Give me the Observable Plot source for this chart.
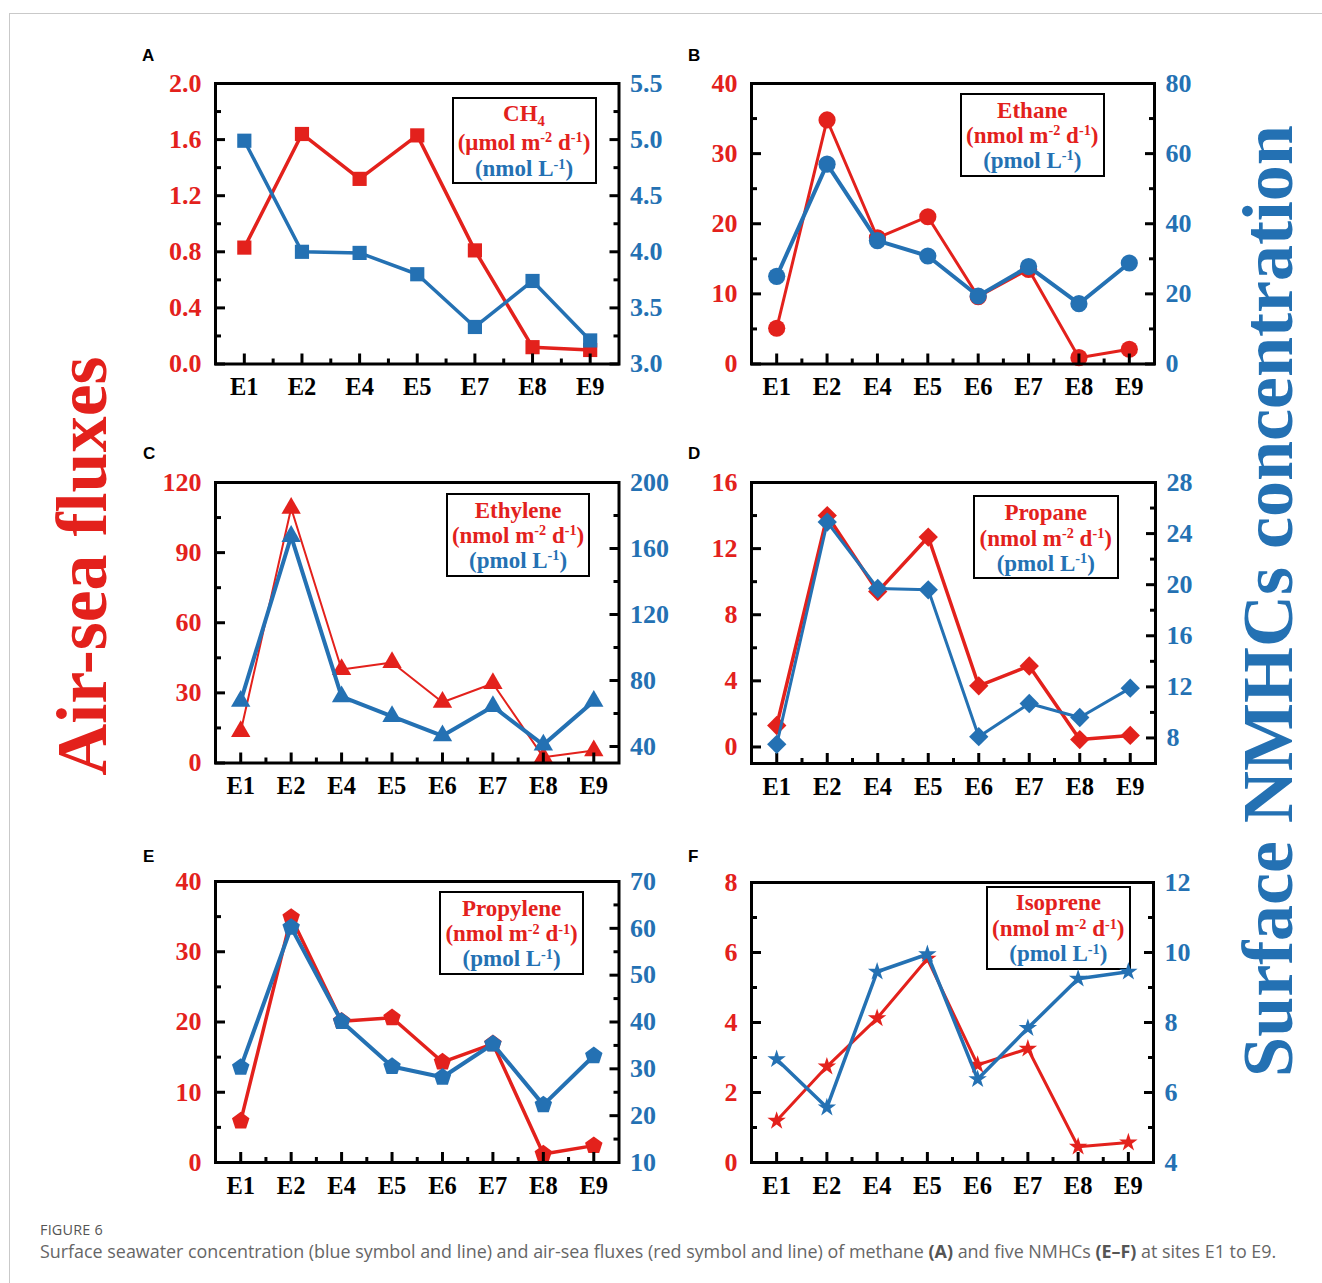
<!DOCTYPE html>
<html>
<head>
<meta charset="utf-8">
<script src="https://cdn.jsdelivr.net/npm/d3@7"></script>
<script src="https://cdn.jsdelivr.net/npm/@observablehq/plot@0.6"></script>
<style>
  body { margin: 0; background: #fff; }
  #page { position: relative; width: 1322px; height: 1283px; overflow: hidden; background: #fff; }
  #border { position: absolute; left: 9px; top: 13px; width: 1400px; height: 1400px;
            border-top: 1.5px solid #c9c9c9; border-left: 1.5px solid #c9c9c9; }
  .layer { position: absolute; }
  .box { position: absolute; border: 2px solid #000; background: #fff; box-sizing: border-box;
         font-family: "Liberation Serif", "Times New Roman", Times, serif; font-weight: bold; font-size: 23px; }
  .box .ln { position: absolute; left: -10px; right: -10px; text-align: center; line-height: 25px; white-space: nowrap; }
  .sup { font-size: 0.62em; position: relative; top: -0.55em; }
  .sub { font-size: 0.64em; position: relative; top: 0.32em; }
  .letter { position: absolute; font-family: "Liberation Sans", Arial, sans-serif; font-weight: bold; font-size: 17px; line-height: 1; }
  #figlabel { position: absolute; left: 40px; top: 1220px; font-family: "Open Sans", "Noto Sans", sans-serif;
              font-size: 14.4px; color: #555; letter-spacing: 0.2px; }
  #caption { position: absolute; left: 40px; top: 1239px; font-family: "Open Sans", "Noto Sans", sans-serif;
             font-size: 17.9px; color: #666; white-space: nowrap; }
  #caption b { color: #555; }
</style>
</head>
<body>
<div id="page">
  <div id="border"></div>
</div>
<script>
// Sampling sites
const sitesCH4 = ["E1", "E2", "E4", "E5", "E7", "E8", "E9"];
const sitesNMHC = ["E1", "E2", "E4", "E5", "E6", "E7", "E8", "E9"];

// Air-sea fluxes (red, left axis) and surface seawater concentrations (blue, right axis)
const ch4Flux = [0.83, 1.64, 1.32, 1.63, 0.81, 0.12, 0.10];       // µmol m-2 d-1
const ch4Conc = [4.99, 4.00, 3.99, 3.80, 3.33, 3.74, 3.21];       // nmol L-1
const ethaneFlux = [5.1, 34.8, 18.0, 21.0, 9.6, 13.5, 0.9, 2.1];  // nmol m-2 d-1
const ethaneConc = [25.0, 57.0, 35.2, 30.8, 19.4, 27.8, 17.2, 28.8]; // pmol L-1
const ethyleneFlux = [13.5, 109, 40, 43, 26, 34, 2.5, 5.3];
const ethyleneConc = [67.5, 167.4, 70.2, 58.2, 46.5, 64.3, 41, 67.5];
const propaneFlux = [1.3, 14.0, 9.4, 12.7, 3.7, 4.9, 0.45, 0.7];
const propaneConc = [7.5, 24.9, 19.7, 19.6, 8.1, 10.7, 9.6, 11.9];
const propyleneFlux = [5.9, 34.9, 20.1, 20.6, 14.3, 16.9, 1.2, 2.4];
const propyleneConc = [30.3, 60.2, 40.1, 30.5, 28.2, 35.3, 22.3, 32.8];
const isopreneFlux = [1.19, 2.74, 4.12, 5.82, 2.79, 3.25, 0.45, 0.57];
const isopreneConc = [6.95, 5.57, 9.45, 9.95, 6.38, 7.84, 9.25, 9.45];

// Axis tick labels (left = flux, right = concentration)
const ticksCH4Flux = [0, 0.4, 0.8, 1.2, 1.6, 2.0];
const ticksCH4Conc = [3.0, 3.5, 4.0, 4.5, 5.0, 5.5];
const ticksEthaneFlux = [0, 10, 20, 30, 40];
const ticksEthaneConc = [0, 20, 40, 60, 80];
const ticksEthyleneFlux = [0, 30, 60, 90, 120];
const ticksEthyleneConc = [40, 80, 120, 160, 200];
const ticksPropaneFlux = [0, 4, 8, 12, 16];
const ticksPropaneConc = [8, 12, 16, 20, 24, 28];
const ticksPropyleneFlux = [0, 10, 20, 30, 40];
const ticksPropyleneConc = [10, 20, 30, 40, 50, 60, 70];
const ticksIsopreneFlux = [0, 2, 4, 6, 8];
const ticksIsopreneConc = [4, 6, 8, 10, 12];

const RED = "#e3211c";
const BLUE = "#2471b3";
const SERIF = '"Liberation Serif", "Times New Roman", Times, serif';

// Filled pentagon, point up, centred on the data point
const pentagon = {
  draw(context, size) {
    const R = Math.sqrt(size / 2.3776);
    for (let k = 0; k < 5; ++k) {
      const a = -Math.PI / 2 + k * 2 * Math.PI / 5;
      const px = R * Math.cos(a), py = R * Math.sin(a);
      if (k) context.lineTo(px, py); else context.moveTo(px, py);
    }
    context.closePath();
  }
};

const f1 = d3.format(".1f");
const fi = d3.format("d");

const panels = [
  { letter: "A", sites: sitesCH4, flux: ch4Flux, conc: ch4Conc,
    leftDomain: [0, 2], rightDomain: [3, 5.5], leftTicks: ticksCH4Flux, rightTicks: ticksCH4Conc,
    leftFormat: f1, rightFormat: f1, symbol: "square", r: 8, redWidth: 3.5, blueWidth: 3.5,
    frame: [215, 82.5, 403.5, 280.5], letterPos: [142, 47],
    box: [451.5, 96.7, 145, 87.6], baselines: [25, 53.3, 80],
    lines: ['CH<span class="sub">4</span>', '(μmol m<span class="sup">-2</span> d<span class="sup">-1</span>)', '(nmol L<span class="sup">-1</span>)'] },
  { letter: "B", sites: sitesNMHC, flux: ethaneFlux, conc: ethaneConc,
    leftDomain: [0, 40], rightDomain: [0, 80], leftTicks: ticksEthaneFlux, rightTicks: ticksEthaneConc,
    leftFormat: fi, rightFormat: fi, symbol: "circle", r: 8.6, redWidth: 3, blueWidth: 4,
    frame: [751, 82.5, 403, 280.5], letterPos: [688, 47],
    box: [960, 93.3, 144.5, 84], baselines: [25, 50.2, 75.2],
    lines: ["Ethane"] },
  { letter: "C", sites: sitesNMHC, flux: ethyleneFlux, conc: ethyleneConc,
    leftDomain: [0, 120], rightDomain: [30, 200], leftTicks: ticksEthyleneFlux, rightTicks: ticksEthyleneConc,
    leftFormat: fi, rightFormat: fi, symbol: "triangle", r: 7.2, redWidth: 2, blueWidth: 4,
    frame: [215, 481.5, 403.5, 280.5], letterPos: [143, 445],
    box: [446, 492.7, 144.2, 84], baselines: [25.6, 50.6, 75.6],
    lines: ["Ethylene"] },
  { letter: "D", sites: sitesNMHC, flux: propaneFlux, conc: propaneConc,
    leftDomain: [-1, 16], rightDomain: [6, 28], leftTicks: ticksPropaneFlux, rightTicks: ticksPropaneConc,
    leftFormat: fi, rightFormat: fi, symbol: "diamond2", r: 8.7, redWidth: 3.5, blueWidth: 3,
    frame: [751, 482, 404, 281], letterPos: [688, 445],
    box: [973, 495, 145.5, 84], baselines: [25, 51, 76],
    lines: ["Propane"] },
  { letter: "E", sites: sitesNMHC, flux: propyleneFlux, conc: propyleneConc,
    leftDomain: [0, 40], rightDomain: [10, 70], leftTicks: ticksPropyleneFlux, rightTicks: ticksPropyleneConc,
    leftFormat: fi, rightFormat: fi, symbol: pentagon, r: 8, redWidth: 3.5, blueWidth: 4,
    frame: [215, 880.5, 403.5, 281], letterPos: [143, 848],
    box: [439, 890.7, 145.2, 84.3], baselines: [25.3, 51, 76],
    lines: ["Propylene"] },
  { letter: "F", sites: sitesNMHC, flux: isopreneFlux, conc: isopreneConc,
    leftDomain: [0, 8], rightDomain: [4, 12], leftTicks: ticksIsopreneFlux, rightTicks: ticksIsopreneConc,
    leftFormat: fi, rightFormat: fi, symbol: "star", r: 5.8, redWidth: 3, blueWidth: 3.5,
    frame: [751, 881.5, 402, 280], letterPos: [688, 848],
    box: [986, 885.7, 144.6, 84.3], baselines: [25, 51, 76],
    lines: ["Isoprene"] }
];

const NMHC_UNITS = ['(nmol m<span class="sup">-2</span> d<span class="sup">-1</span>)', '(pmol L<span class="sup">-1</span>)'];

const ML = 90, MR = 90, MT = 15, MB = 55;
const page = document.getElementById("page");

function midpoints(t) {
  return t.slice(1).map((v, k) => (v + t[k]) / 2);
}

function place(svg, left, top) {
  const wrap = document.createElement("div");
  wrap.className = "layer";
  wrap.style.left = left + "px";
  wrap.style.top = top + "px";
  wrap.appendChild(svg);
  page.appendChild(wrap);
}

for (const p of panels) {
  const n = p.sites.length;
  const idx = d3.range(n);
  const [fx, fy, fw, fh] = p.frame;
  const W = fw + ML + MR, H = fh + MT + MB;
  const fluxRows = idx.map(i => ({i, v: p.flux[i]}));
  const concRows = idx.map(i => ({i, v: p.conc[i]}));
  const base = {
    width: W, height: H, marginLeft: ML, marginRight: MR, marginTop: MT, marginBottom: MB,
    x: {domain: [-0.5, n - 0.5], axis: null},
    style: {background: "transparent", fontFamily: SERIF, overflow: "visible"}
  };
  const tickStyle = {stroke: "#000", strokeWidth: 3, strokeLinecap: "butt", fill: "none", label: null};
  const labelStyle = {tickSize: 0, fontWeight: "bold", fontFamily: SERIF, label: null};

  // Flux layer: red series, frame, left axis and site axis
  const lower = Plot.plot({
    ...base,
    y: {domain: p.leftDomain, axis: null},
    marks: [
      Plot.line(fluxRows, {x: "i", y: "v", stroke: RED, strokeWidth: p.redWidth}),
      Plot.dot(fluxRows, {x: "i", y: "v", symbol: p.symbol, r: p.r, fill: RED}),
      Plot.frame({stroke: "#000", strokeWidth: 3}),
      Plot.axisY(p.leftTicks, {anchor: "left", tickSize: -10, ...tickStyle}),
      Plot.axisY(midpoints(p.leftTicks), {anchor: "left", tickSize: -6, ...tickStyle}),
      Plot.axisY(p.leftTicks, {anchor: "left", tickPadding: 14, fill: RED, fontSize: 26, tickFormat: p.leftFormat, ...labelStyle}),
      Plot.axisX(idx, {anchor: "bottom", tickSize: -10, ...tickStyle}),
      Plot.axisX(midpoints(idx), {anchor: "bottom", tickSize: -5, ...tickStyle}),
      Plot.axisX(idx, {anchor: "bottom", tickPadding: 14, fill: "#000", fontSize: 24.5, tickFormat: i => p.sites[i], ...labelStyle})
    ]
  });
  place(lower, fx - ML, fy - MT);

  // Legend box
  const box = document.createElement("div");
  box.className = "box";
  const [bx, by, bw, bh] = p.box;
  Object.assign(box.style, {left: bx + "px", top: by + "px", width: bw + "px", height: bh + "px"});
  const texts = p.lines.length === 3 ? p.lines : [p.lines[0], ...NMHC_UNITS];
  texts.forEach((t, k) => {
    const ln = document.createElement("div");
    ln.className = "ln";
    ln.innerHTML = t;
    ln.style.color = k < 2 ? RED : BLUE;
    ln.style.top = (p.baselines[k] - 2 - 20.3) + "px";
    box.appendChild(ln);
  });
  page.appendChild(box);

  // Concentration layer: blue series and right axis
  const upper = Plot.plot({
    ...base,
    y: {domain: p.rightDomain, axis: null},
    marks: [
      Plot.line(concRows, {x: "i", y: "v", stroke: BLUE, strokeWidth: p.blueWidth}),
      Plot.dot(concRows, {x: "i", y: "v", symbol: p.symbol, r: p.r, fill: BLUE}),
      Plot.axisY(p.rightTicks, {anchor: "right", tickSize: -10, ...tickStyle}),
      Plot.axisY(midpoints(p.rightTicks), {anchor: "right", tickSize: -6, ...tickStyle}),
      Plot.axisY(p.rightTicks, {anchor: "right", tickPadding: 11, fill: BLUE, fontSize: 26, tickFormat: p.rightFormat, ...labelStyle})
    ]
  });
  place(upper, fx - ML, fy - MT);

  const lt = document.createElement("div");
  lt.className = "letter";
  lt.textContent = p.letter;
  lt.style.left = p.letterPos[0] + "px";
  lt.style.top = p.letterPos[1] + "px";
  page.appendChild(lt);
}

// Shared axis titles, rotated along the page edges
const ns = "http://www.w3.org/2000/svg";
const side = document.createElementNS(ns, "svg");
side.setAttribute("width", 1322);
side.setAttribute("height", 1283);
side.style.position = "absolute";
side.style.left = "0px";
side.style.top = "0px";
side.style.pointerEvents = "none";
[["Air-sea fluxes", 106, 566, RED], ["Surface NMHCs concentration", 1292, 601, BLUE]].forEach(([t, x, y, c]) => {
  const el = document.createElementNS(ns, "text");
  el.setAttribute("transform", `translate(${x},${y}) rotate(-90)`);
  el.setAttribute("text-anchor", "middle");
  el.setAttribute("fill", c);
  el.setAttribute("font-family", SERIF);
  el.setAttribute("font-weight", "bold");
  el.setAttribute("font-size", 72);
  el.textContent = t;
  side.appendChild(el);
});
page.appendChild(side);

const fig = document.createElement("div");
fig.id = "figlabel";
fig.textContent = "FIGURE 6";
page.appendChild(fig);
const cap = document.createElement("div");
cap.id = "caption";
cap.innerHTML = "Surface seawater concentration (blue symbol and line) and air-sea fluxes (red symbol and line) of methane <b>(A)</b> and five NMHCs <b>(E–F)</b> at sites E1 to E9.";
page.appendChild(cap);
</script>
</body>
</html>
